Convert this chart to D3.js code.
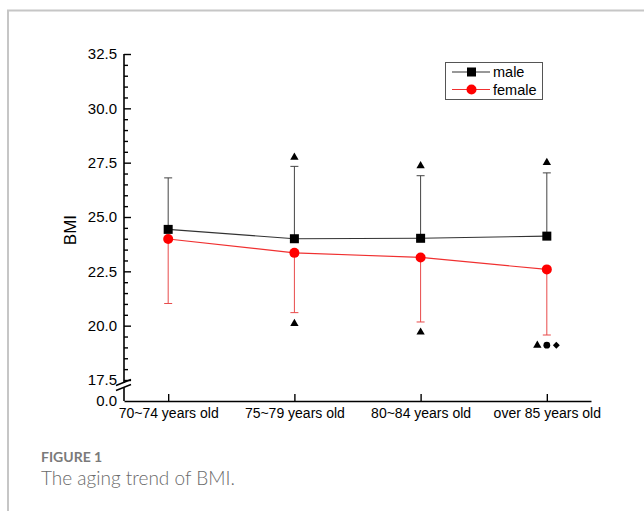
<!DOCTYPE html>
<html>

<head>
  <meta charset="utf-8">
  <title>BMI aging trend</title>
  <script src="https://d3js.org/d3.v7.min.js"></script>
  <style>
    body { margin: 0; background: #fff; }
    svg { display: block; }
  </style>
</head>

<body>
  <script>
    // data
    var categories = ["70~74 years old", "75~79 years old", "80~84 years old", "over 85 years old"];
    var maleMean = [24.43, 24.0, 24.02, 24.12];
    var maleUpper = [26.8, 27.33, 26.9, 27.03];
    var femaleMean = [23.99, 23.35, 23.14, 22.59];
    var femaleLower = [21.02, 20.6, 20.17, 19.57];
    var yTicks = [17.5, 20.0, 22.5, 25.0, 27.5, 30.0, 32.5];
    // significance marks: category index, BMI level, symbols
    var sigCat = [1, 2, 3, 1, 2, 3];
    var sigValue = [27.75, 27.35, 27.5, 20.1, 19.7, 19.1];
    var sigSymbols = [["triangle"], ["triangle"], ["triangle"], ["triangle"], ["triangle"], ["triangle", "circle", "diamond"]];

    var width = 644, height = 511;
    var svg = d3.select("body").append("svg").attr("width", width).attr("height", height);

    // figure frame
    svg.append("path")
      .attr("d", "M8,511 V10.5 H644")
      .attr("fill", "none").attr("stroke", "#c6c6c6").attr("stroke-width", 2);

    var x = d3.scalePoint().domain(categories).range([124, 591]).padding(0.35);
    var y = d3.scaleLinear().domain([17.5, 32.5]).range([380, 54]);
    var yZero = 401;
    var font = "'Liberation Sans', Arial, sans-serif";

    // y axis (major + minor)
    var minor = d3.range(17.5, 32.51, 0.5).filter(v => Math.abs((v / 2.5) - Math.round(v / 2.5)) > 1e-6);
    var gy = svg.append("g").attr("transform", "translate(124,0)");
    gy.call(d3.axisLeft(y).tickValues(minor).tickSize(-4).tickSizeOuter(0).tickFormat(""));
    gy.call(g => g.select(".domain").remove());
    var gy2 = svg.append("g").attr("transform", "translate(124,0)");
    gy2.call(d3.axisLeft(y).tickValues(yTicks).tickSize(-7).tickSizeOuter(0).tickPadding(7).tickFormat(d3.format(".1f")));
    gy2.select(".domain").remove();
    gy2.selectAll("text").attr("font-family", font).attr("font-size", 15).attr("fill", "#000");
    svg.selectAll(".tick line").attr("stroke", "#000").attr("stroke-width", 1.4);

    // axis line with break
    svg.append("line").attr("x1", 124).attr("x2", 124).attr("y1", y(32.5)).attr("y2", 383)
      .attr("stroke", "#000").attr("stroke-width", 1.6);
    svg.append("line").attr("x1", 124).attr("x2", 124).attr("y1", 387.5).attr("y2", yZero)
      .attr("stroke", "#000").attr("stroke-width", 1.6);
    [0, 5].forEach(function (o) {
      svg.append("line").attr("x1", 116).attr("y1", 385.5 + o).attr("x2", 131).attr("y2", 379.5 + o)
        .attr("stroke", "#000").attr("stroke-width", 1.4);
    });
    svg.append("text").attr("x", 117).attr("y", yZero).attr("dy", "0.32em")
      .attr("text-anchor", "end").attr("font-family", font).attr("font-size", 15).text("0.0");

    // x axis
    var gx = svg.append("g").attr("transform", "translate(0," + yZero + ")");
    gx.call(d3.axisBottom(x).tickSize(-7).tickSizeOuter(0).tickPadding(7));
    gx.select(".domain").attr("stroke", "#000").attr("stroke-width", 1.6);
    gx.selectAll(".tick line").attr("stroke", "#000").attr("stroke-width", 1.4);
    gx.selectAll("text").attr("font-family", font).attr("font-size", 14).attr("fill", "#000");

    // y label
    svg.append("text")
      .attr("transform", "translate(76," + y(24.4) + ") rotate(-90)")
      .attr("text-anchor", "middle").attr("font-family", font).attr("font-size", 17)
      .text("BMI");

    // error bars
    var cap = 4;
    categories.forEach(function (c, i) {
      var cx = x(c);
      svg.append("line").attr("x1", cx).attr("x2", cx).attr("y1", y(maleMean[i])).attr("y2", y(maleUpper[i]))
        .attr("stroke", "#444").attr("stroke-width", 1);
      svg.append("line").attr("x1", cx - cap).attr("x2", cx + cap).attr("y1", y(maleUpper[i])).attr("y2", y(maleUpper[i]))
        .attr("stroke", "#444").attr("stroke-width", 1);
      svg.append("line").attr("x1", cx).attr("x2", cx).attr("y1", y(femaleMean[i])).attr("y2", y(femaleLower[i]))
        .attr("stroke", "#e84a4a").attr("stroke-width", 1);
      svg.append("line").attr("x1", cx - cap).attr("x2", cx + cap).attr("y1", y(femaleLower[i])).attr("y2", y(femaleLower[i]))
        .attr("stroke", "#e84a4a").attr("stroke-width", 1);
    });

    // lines
    var line = d3.line().x((d, i) => x(categories[i])).y(d => y(d));
    svg.append("path").datum(maleMean).attr("d", line).attr("fill", "none").attr("stroke", "#333").attr("stroke-width", 1.1);
    svg.append("path").datum(femaleMean).attr("d", line).attr("fill", "none").attr("stroke", "#f03030").attr("stroke-width", 1.1);

    // markers
    svg.selectAll(".m").data(maleMean).enter().append("rect")
      .attr("x", (d, i) => x(categories[i]) - 4.5).attr("y", d => y(d) - 4.5)
      .attr("width", 9).attr("height", 9).attr("fill", "#000");
    svg.selectAll(".f").data(femaleMean).enter().append("circle")
      .attr("cx", (d, i) => x(categories[i])).attr("cy", d => y(d)).attr("r", 5)
      .attr("fill", "#ff0000");

    // significance marks (diamond = square turned 45 degrees)
    var symType = { triangle: d3.symbolTriangle, circle: d3.symbolCircle, diamond: d3.symbolSquare };
    var symSize = { triangle: 30, circle: 36, diamond: 24 };
    var symRot = { triangle: 0, circle: 0, diamond: 45 };
    sigCat.forEach(function (ci, k) {
      var n = sigSymbols[k].length;
      sigSymbols[k].forEach(function (s, j) {
        var cx = x(categories[ci]) + (j - (n - 1) / 2) * 9.5;
        svg.append("path")
          .attr("d", d3.symbol().type(symType[s]).size(symSize[s])())
          .attr("transform", "translate(" + cx + "," + y(sigValue[k]) + ") rotate(" + symRot[s] + ")")
          .attr("fill", "#000");
      });
    });

    // legend
    var lg = svg.append("g");
    lg.append("rect").attr("x", 445.5).attr("y", 62.5).attr("width", 97).attr("height", 37)
      .attr("fill", "#fff").attr("stroke", "#555").attr("stroke-width", 1);
    var legendItems = [["male", "#000", "#333"], ["female", "#ff0000", "#f03030"]];
    legendItems.forEach(function (it, i) {
      var ly = 72 + i * 17.5;
      lg.append("line").attr("x1", 452).attr("x2", 490).attr("y1", ly).attr("y2", ly)
        .attr("stroke", it[2]).attr("stroke-width", 1.1);
      if (i === 0) {
        lg.append("rect").attr("x", 467).attr("y", ly - 4.5).attr("width", 9).attr("height", 9).attr("fill", it[1]);
      } else {
        lg.append("circle").attr("cx", 471.5).attr("cy", ly).attr("r", 5).attr("fill", it[1]);
      }
      lg.append("text").attr("x", 493).attr("y", ly).attr("dy", "0.35em")
        .attr("font-family", font).attr("font-size", 14.5).text(it[0]);
    });

    // caption
    svg.append("text").attr("x", 41).attr("y", 462)
      .attr("font-family", "Lato, 'Open Sans', sans-serif").attr("font-weight", "bold")
      .attr("font-size", 14).attr("fill", "#7a7a7a").text("FIGURE 1");
    svg.append("text").attr("x", 41).attr("y", 485)
      .attr("font-family", "Lato, 'Open Sans', sans-serif").attr("font-weight", 300)
      .attr("font-size", 19).attr("fill", "#6a6a6a").text("The aging trend of BMI.");
  </script>
</body>

</html>
